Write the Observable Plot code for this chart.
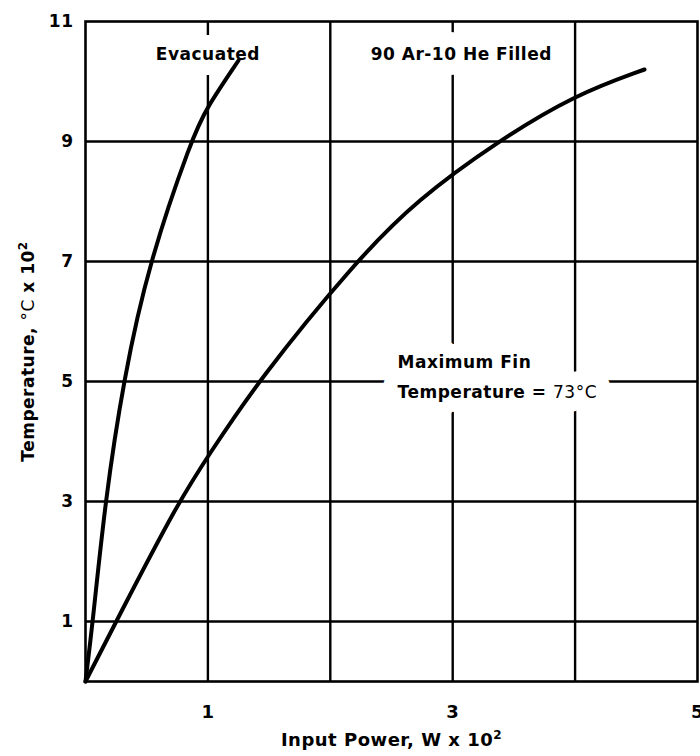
<!DOCTYPE html>
<html>
<head>
<meta charset="utf-8">
<script src="https://cdn.jsdelivr.net/npm/d3@7"></script>
<script src="https://cdn.jsdelivr.net/npm/@observablehq/plot@0.6"></script>
<style>
  html, body { margin: 0; padding: 0; background: #fff; }
  #chart svg { display: block; }
</style>
</head>
<body>
<div id="chart"></div>
<script>
// Temperature (°C x 10^2) versus input power (W x 10^2)
const evacPower   = [0, 0.06, 0.16, 0.31, 0.52, 0.874, 0.98, 1.25];
const evacTemp    = [0, 1, 3, 5.03, 7.0, 9.07, 9.53, 10.35];
const filledPower = [0, 0.25, 0.76, 1.0, 1.405, 2.206, 2.71, 3.366, 4.0, 4.567];
const filledTemp  = [0, 1, 3, 3.75, 5, 7.0, 8.03, 9.0, 9.78, 10.2];

const xTicks = [1, 3, 5];
const yTicks = [1, 3, 5, 7, 9, 11];
const xGrid  = [1, 2, 3, 4];
const yGrid  = [1, 3, 5, 7, 9];

const seriesNames = ["Evacuated", "90 Ar-10 He Filled"];
const noteLines = ["Maximum Fin", "Temperature = 73°C"];

const evac   = evacPower.map((p, i) => ({power: p, temp: evacTemp[i]}));
const filled = filledPower.map((p, i) => ({power: p, temp: filledTemp[i]}));

const font = "'DejaVu Sans', sans-serif";
const textStyle = {fontWeight: "bold", fontSize: 17, fontFamily: font};
const ink  = {fill: "black", ...textStyle};
const mask = {fill: "white", stroke: "white", ...textStyle};

// each label: white knockout first (opens gaps in the grid), then the lettering
function label(text, x, y, anchor, pad) {
  return [
    Plot.text([text], {x, y, text: d => d, textAnchor: anchor, strokeWidth: pad, ...mask}),
    Plot.text([text], {x, y, text: d => d, textAnchor: anchor, ...ink})
  ];
}

const plot = Plot.plot({
  width: 700,
  height: 756,
  marginLeft: 85,
  marginRight: 3,
  marginTop: 21,
  marginBottom: 75,
  style: {fontFamily: font, fontSize: "17px", fontWeight: "bold", color: "black", background: "white", letterSpacing: "0.5px"},
  x: {domain: [0, 5], range: [85, 697]},
  y: {domain: [0, 11], range: [681, 21]},
  marks: [
    Plot.ruleX(xGrid, {stroke: "black", strokeWidth: 2.4}),
    Plot.ruleY(yGrid, {stroke: "black", strokeWidth: 2.4}),
    Plot.frame({stroke: "black", strokeWidth: 2.6}),
    Plot.axisX({
      ticks: xTicks, tickSize: 0, tickPadding: 24, tickFormat: d3.format("d"),
      label: "Input Power, W x 10²", labelAnchor: "center", labelOffset: 64,
      fontSize: 18
    }),
    Plot.axisY({
      ticks: yTicks, tickSize: 0, tickPadding: 12, tickFormat: d3.format("d"),
      label: "Temperature, °C x 10²", labelAnchor: "center", labelOffset: 64,
      fontSize: 17
    }),
    ...label(seriesNames[0], 1, 10.45, "middle", 30),
    ...label(seriesNames[1], 3.07, 10.45, "middle", 30),
    ...label(noteLines[0], 2.55, 5.32, "start", 28),
    ...label(noteLines[1], 2.55, 4.82, "start", 28),
    Plot.line(evac,   {x: "power", y: "temp", stroke: "black", strokeWidth: 4, strokeLinecap: "round", curve: "basis"}),
    Plot.line(filled, {x: "power", y: "temp", stroke: "black", strokeWidth: 4, strokeLinecap: "round", curve: "basis"})
  ]
});

// axis titles carry no direction arrows; degree units are set in a lighter
// weight and the power of ten is raised as a true superscript
d3.select(plot).selectAll("text").each(function() {
  const el = d3.select(this);
  if (el.selectAll("tspan").size() > 0) return;
  const t = el.text().replace(/\s*[→↑←↓]\s*/g, "");
  const parts = t.split(/(73°C|°C|²)/).filter(s => s !== "");
  if (parts.length === 1) { el.text(t); return; }
  el.text(null);
  el.attr("xml:space", "preserve");
  for (const p of parts) {
    if (p === "²") {
      el.append("tspan").attr("font-size", "12px").attr("dy", "-0.55em").text("2");
    } else if (p === "73°C" || p === "°C") {
      el.append("tspan").attr("font-weight", "normal").text(p);
    } else {
      el.append("tspan").text(p);
    }
  }
});

document.getElementById("chart").appendChild(plot);
</script>
</body>
</html>
